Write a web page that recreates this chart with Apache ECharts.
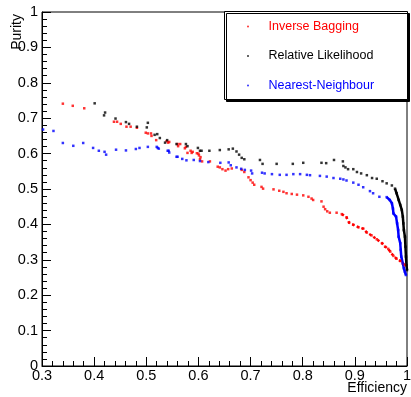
<!DOCTYPE html>
<html>
<head>
<meta charset="utf-8">
<script src="https://cdn.jsdelivr.net/npm/echarts@6/dist/echarts.min.js"></script>
<style>
  html, body { margin: 0; padding: 0; background: #fff; }
  #purity { width: 411px; height: 397px; }
</style>
</head>
<body>
<div id="purity"></div>
<script>
var seriesNames = ['Inverse Bagging', 'Relative Likelihood', 'Nearest-Neighbour'];
var seriesColors = ['#ff0000', '#000000', '#0000ff'];

// [efficiency, purity]
var invBagging = [
  [0.340, 0.741], [0.359, 0.735], [0.381, 0.728], [0.438, 0.690], [0.444, 0.690],
  [0.451, 0.684], [0.462, 0.676], [0.470, 0.676], [0.482, 0.673], [0.499, 0.659],
  [0.503, 0.657], [0.509, 0.657], [0.510, 0.650], [0.519, 0.638], [0.539, 0.635],
  [0.542, 0.631], [0.544, 0.633], [0.560, 0.627], [0.561, 0.621], [0.565, 0.627],
  [0.574, 0.615], [0.576, 0.619], [0.579, 0.602], [0.585, 0.608], [0.587, 0.602],
  [0.589, 0.605], [0.597, 0.601], [0.600, 0.600], [0.601, 0.595], [0.603, 0.584],
  [0.604, 0.590], [0.607, 0.578], [0.622, 0.578], [0.637, 0.563], [0.641, 0.561],
  [0.646, 0.556], [0.652, 0.552], [0.657, 0.556], [0.664, 0.558], [0.683, 0.554],
  [0.688, 0.548], [0.696, 0.533], [0.700, 0.525], [0.704, 0.518], [0.707, 0.512],
  [0.721, 0.506], [0.724, 0.501], [0.744, 0.499], [0.755, 0.495], [0.763, 0.492],
  [0.769, 0.488], [0.779, 0.486], [0.789, 0.484], [0.801, 0.482], [0.811, 0.478],
  [0.817, 0.473], [0.820, 0.469], [0.836, 0.465], [0.840, 0.450], [0.843, 0.443],
  [0.847, 0.437], [0.852, 0.433], [0.865, 0.433], [0.875, 0.429], [0.884, 0.420],
  [0.889, 0.405], [0.897, 0.399], [0.907, 0.392], [0.916, 0.388], [0.923, 0.377],
  [0.932, 0.369], [0.942, 0.358], [0.952, 0.347], [0.958, 0.337], [0.964, 0.331],
  [0.968, 0.323], [0.974, 0.311], [0.980, 0.303], [0.987, 0.297], [0.992, 0.290],
  [0.996, 0.285]
];

var relLikelihood = [
  [0.401, 0.742], [0.419, 0.708], [0.421, 0.716], [0.441, 0.699], [0.461, 0.689],
  [0.467, 0.684], [0.482, 0.676], [0.501, 0.674], [0.503, 0.687], [0.516, 0.653],
  [0.521, 0.655], [0.526, 0.644], [0.536, 0.631], [0.540, 0.638], [0.558, 0.627],
  [0.576, 0.627], [0.579, 0.621], [0.599, 0.616], [0.603, 0.608], [0.606, 0.608],
  [0.621, 0.608], [0.641, 0.610], [0.658, 0.612], [0.666, 0.614], [0.673, 0.606],
  [0.678, 0.597], [0.683, 0.588], [0.688, 0.584], [0.718, 0.582], [0.723, 0.571],
  [0.750, 0.571], [0.781, 0.571], [0.801, 0.574], [0.836, 0.574], [0.845, 0.573],
  [0.860, 0.582], [0.877, 0.578], [0.878, 0.565], [0.882, 0.561], [0.887, 0.556],
  [0.897, 0.556], [0.904, 0.548], [0.912, 0.544], [0.923, 0.539], [0.933, 0.531],
  [0.942, 0.529], [0.953, 0.522], [0.961, 0.516], [0.971, 0.510], [0.977, 0.501],
  [0.980, 0.488], [0.984, 0.469], [0.987, 0.455], [0.990, 0.441], [0.992, 0.422],
  [0.993, 0.403], [0.994, 0.384], [0.996, 0.365], [0.997, 0.337], [0.998, 0.309],
  [0.999, 0.285], [1.000, 0.271]
];

var nearestNeighbour = [
  [0.302, 0.668], [0.322, 0.664], [0.340, 0.630], [0.360, 0.622], [0.379, 0.630],
  [0.398, 0.616], [0.409, 0.608], [0.420, 0.605], [0.423, 0.597], [0.442, 0.611],
  [0.461, 0.609], [0.480, 0.613], [0.487, 0.616], [0.503, 0.619], [0.520, 0.619],
  [0.522, 0.616], [0.524, 0.614], [0.541, 0.608], [0.543, 0.608], [0.544, 0.603],
  [0.558, 0.591], [0.560, 0.591], [0.569, 0.585], [0.577, 0.581], [0.591, 0.582],
  [0.603, 0.579], [0.619, 0.576], [0.642, 0.574], [0.658, 0.575], [0.662, 0.567],
  [0.673, 0.561], [0.682, 0.557], [0.689, 0.554], [0.701, 0.552], [0.703, 0.544],
  [0.722, 0.546], [0.727, 0.544], [0.741, 0.542], [0.756, 0.540], [0.769, 0.540],
  [0.782, 0.542], [0.795, 0.542], [0.808, 0.540], [0.814, 0.539], [0.833, 0.537],
  [0.846, 0.535], [0.859, 0.531], [0.872, 0.529], [0.878, 0.527], [0.884, 0.524],
  [0.897, 0.518], [0.907, 0.512], [0.916, 0.505], [0.929, 0.494], [0.935, 0.488],
  [0.947, 0.478], [0.961, 0.477], [0.967, 0.469], [0.971, 0.460], [0.973, 0.445],
  [0.974, 0.431], [0.979, 0.422], [0.981, 0.403], [0.983, 0.384], [0.984, 0.365],
  [0.987, 0.347], [0.988, 0.328], [0.989, 0.309], [0.992, 0.290], [0.994, 0.276],
  [0.996, 0.266], [0.998, 0.257]
];

// where each curve turns into a dense band of points
var tailStart = [0.875, 0.975, 0.96];
var tailType = ['dotted', 'solid', 'solid'];

var curves = [invBagging, relLikelihood, nearestNeighbour];
var font = '"Liberation Sans", Arial, Helvetica, sans-serif';

var series = [];
curves.forEach(function (pts, i) {
  series.push({
    name: seriesNames[i],
    type: 'scatter',
    data: pts,
    symbol: 'rect',
    symbolSize: 2.5,
    itemStyle: { color: seriesColors[i] },
    silent: true,
    z: 3
  });
  series.push({
    name: seriesNames[i],
    type: 'line',
    data: pts.filter(function (p) { return p[0] >= tailStart[i]; }),
    showSymbol: false,
    lineStyle: { color: seriesColors[i], width: 2.5, type: tailType[i] },
    silent: true,
    z: 2
  });
});

var myChart = echarts.init(document.getElementById('purity'));

var option = {
  animation: false,
  backgroundColor: '#fff',
  grid: {
    left: 42, right: 4, top: 12, bottom: 31,
    outerBoundsMode: 'none',
    show: true, borderColor: '#000', borderWidth: 1
  },
  legend: {
    data: seriesNames.map(function (n, i) {
      return { name: n, textStyle: { color: seriesColors[i] } };
    }),
    orient: 'vertical',
    left: 247,
    top: 20,
    padding: 0,
    itemGap: 16.5,
    itemWidth: 31,
    itemHeight: 2,
    icon: 'circle',
    selectedMode: false,
    z: 20,
    textStyle: { fontFamily: font, fontSize: 12.5 }
  },
  graphic: [{
    type: 'rect',
    left: 224, top: 11,
    shape: { width: 183, height: 88 },
    style: {
      fill: '#fff', stroke: '#000', lineWidth: 1,
      shadowColor: '#000', shadowOffsetX: 2, shadowOffsetY: 2, shadowBlur: 0
    },
    z: 5
  }],
  xAxis: {
    type: 'value',
    min: 0.3, max: 1, interval: 0.1,
    name: 'Efficiency',
    nameLocation: 'end',
    nameGap: 0,
    nameMoveOverlap: false,
    nameTextStyle: {
      fontFamily: font, fontSize: 14, color: '#000',
      align: 'right', verticalAlign: 'top', padding: [15, 0, 0, 0]
    },
    axisLine: { onZero: false, lineStyle: { color: '#000', width: 1 } },
    axisTick: { inside: true, length: 9, lineStyle: { color: '#000' } },
    minorTick: { show: true, splitNumber: 5, length: 5, lineStyle: { color: '#000' } },
    splitLine: { show: false },
    axisLabel: {
      color: '#000', fontFamily: font, fontSize: 14.5, margin: 2,
      formatter: function (v) { return String(+v.toFixed(1)); }
    }
  },
  yAxis: {
    type: 'value',
    min: 0, max: 1, interval: 0.1,
    name: 'Purity',
    nameLocation: 'end',
    nameRotate: 90,
    nameGap: -2,
    nameMoveOverlap: false,
    nameTextStyle: {
      fontFamily: font, fontSize: 14, color: '#000',
      align: 'right', verticalAlign: 'bottom', padding: [0, 0, 18, 0]
    },
    axisLine: { lineStyle: { color: '#000', width: 1 } },
    axisTick: { inside: true, length: 9, lineStyle: { color: '#000' } },
    minorTick: { show: true, splitNumber: 5, length: 5, lineStyle: { color: '#000' } },
    splitLine: { show: false },
    axisLabel: {
      color: '#000', fontFamily: font, fontSize: 14.5, margin: 4,
      formatter: function (v) { return String(+v.toFixed(1)); }
    }
  },
  series: series
};

myChart.setOption(option);
</script>
</body>
</html>
